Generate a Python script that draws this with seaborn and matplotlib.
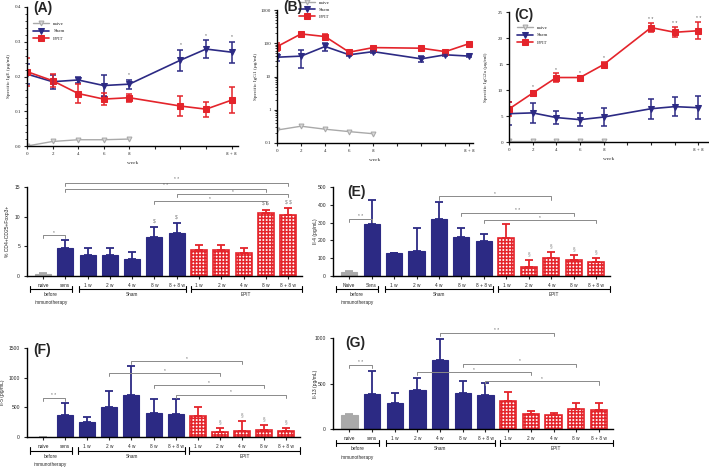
import numpy as np
import pandas as pd
import matplotlib
matplotlib.use("Agg")
import matplotlib.pyplot as plt
import seaborn as sns
from matplotlib.transforms import blended_transform_factory
from matplotlib.ticker import LogLocator, NullFormatter, AutoMinorLocator

sns.set_theme(style="ticks")
plt.rcParams['font.family'] = ['Liberation Sans', 'DejaVu Sans']
plt.rcParams['hatch.linewidth'] = 1.1

NAVY = '#2c2a84'
RED = '#e4242b'
GREY = '#a9a9a9'
BRK = '#8a8a8a'

# ---------------- time-course data (weeks) ----------------
weeks = [0, 2, 4, 6, 8, 12, 14, 16]
naive_weeks = [0, 2, 4, 6, 8]
week_ticks = [0, 2, 4, 6, 8, 10, 12, 14, 16]
week_labels = ['0', '2', '4', '6', '8', '', '', '', '8 + 8']

ige_naive = [0.0, 0.013, 0.018, 0.018, 0.02]
ige_sham = [0.207, 0.185, 0.19, 0.174, 0.178, 0.247, 0.279, 0.27]
ige_sham_err = [0.03, 0.02, 0.01, 0.03, 0.013, 0.03, 0.025, 0.03]
ige_epit = [0.214, 0.188, 0.151, 0.135, 0.139, 0.115, 0.106, 0.132]
ige_epit_err = [0.04, 0.018, 0.027, 0.018, 0.012, 0.028, 0.022, 0.038]
ige_stars = ['', '', '', '', '*', '*', '*', '*']

igg1_naive = [0.245, 0.32, 0.26, 0.22, 0.19]
igg1_sham = [38, 41, 80, 45, 56, 34, 45, 41]
igg1_sham_err = [8, 23, 20, 4, 4, 7, 3, 3]
igg1_epit = [79, 191, 159, 54, 74, 71, 56, 98]
igg1_epit_err = [20, 15, 25, 5, 5, 5, 4, 5]

igg2a_naive = [0.2, 0.2, 0.2, 0.2, 0.2]
igg2a_sham = [5.45, 5.6, 4.7, 4.3, 4.8, 6.4, 6.8, 6.6]
igg2a_sham_err = [2.2, 1.9, 1.3, 1.3, 1.8, 1.9, 1.8, 2.2]
igg2a_epit = [6.35, 9.4, 12.4, 12.4, 14.9, 22.0, 21.1, 21.4]
igg2a_epit_err = [1.3, 0.5, 0.8, 0.2, 0.5, 0.8, 1.0, 1.6]
igg2a_stars = ['', '*', '*', '*', '*', '* *', '* *', '* *']

# ---------------- bar data ----------------
bar_keys = ['naive', 'sens', 'Sham 1w', 'Sham 2w', 'Sham 4w', 'Sham 8w', 'Sham 8+8w',
            'EPIT 1w', 'EPIT 2w', 'EPIT 4w', 'EPIT 8w', 'EPIT 8+8w']
bar_labels = ['naive', 'sens', '1 w', '2 w', '4 w', '8 w', '8 + 8 w',
              '1 w', '2 w', '4 w', '8 w', '8 + 8 w']
bar_labels_e = ['Naive', 'Sens'] + bar_labels[2:]
bar_group = ['naive', 'sens', 'Sham', 'Sham', 'Sham', 'Sham', 'Sham',
             'EPIT', 'EPIT', 'EPIT', 'EPIT', 'EPIT']

treg = [0.35, 4.8, 3.5, 3.5, 2.9, 6.6, 7.2, 4.3, 4.3, 3.8, 10.7, 10.3]
treg_err = [0.1, 1.2, 1.3, 1.3, 1.1, 1.7, 1.8, 0.95, 0.95, 0.9, 0.5, 1.1]
il4 = [20, 292, 127, 139, 320, 217, 197, 212, 52, 99, 90, 80]
il4_err = [8, 137, 3, 131, 98, 53, 37, 78, 38, 36, 28, 21]
il5 = [5, 365, 247, 500, 708, 399, 382, 360, 79, 101, 112, 96]
il5_err = [3, 208, 96, 270, 483, 241, 253, 151, 73, 163, 96, 50]
il13 = [157, 388, 286, 425, 755, 396, 377, 304, 168, 150, 220, 212]
il13_err = [10, 246, 113, 139, 238, 128, 132, 99, 26, 22, 66, 74]

treg_brackets = [(0, 1, 6.85, '*'), (1, 11, 15.7, '* *'), (1, 10, 14.7, '* *'),
                 (6, 11, 13.8, '*'), (5, 10, 12.6, '*')]
il4_brackets = [(0, 1, 320, '* *'), (4, 9, 447, '*'), (5, 10, 354, '* *'), (6, 11, 313, '*')]
il5_brackets = [(0, 1, 657, '* *'), (4, 9, 1275, '*'), (3, 8, 1079, '*'),
                (5, 10, 871, '*'), (6, 11, 713, '*')]
il13_brackets = [(0, 1, 700, '* *'), (4, 9, 1055, '* *'), (5, 10, 718, '*'),
                 (3, 8, 626, '*'), (6, 11, 524, '*')]
treg_marks = {5: '\\$', 6: '\\$', 10: '\\$ \\$', 11: '\\$ \\$'}
il4_marks = {8: '§', 9: '§', 10: '§', 11: '§'}
il5_marks = {8: '§', 9: '§', 10: '§', 11: '§'}

W, H = 709, 468
fig = plt.figure(figsize=(W / 100, H / 100), dpi=100)


def rect(l, t, r, b):
    return [l / W, 1 - b / H, (r - l) / W, (b - t) / H]


def place_ylabel(ax, px):
    bb = ax.get_position()
    x_ax = (px / W - bb.x0) / bb.width
    ax.yaxis.set_label_coords(x_ax, 0.5)


SERIF = ['Liberation Serif', 'DejaVu Serif']


def line_panel(ax, naive, sham, sham_err, epit, epit_err, log=False,
               ylim=None, ylabel='', legend_anchor=(0, 1)):
    sns.lineplot(x=naive_weeks, y=naive, ax=ax, color=GREY, marker='v', markersize=3.5,
                 markerfacecolor='#d8d8d8', markeredgecolor=GREY, lw=1.0, label='naive')
    sns.lineplot(x=weeks, y=sham, ax=ax, color=NAVY, marker='v', markersize=4,
                 markeredgecolor=NAVY, lw=1.2, label='Sham')
    sns.lineplot(x=weeks, y=epit, ax=ax, color=RED, marker='s', markersize=4,
                 markeredgecolor=RED, lw=1.2, label='EPIT')
    ax.errorbar(weeks, sham, yerr=sham_err, fmt='none', ecolor=NAVY, elinewidth=1.1,
                capsize=2.2, capthick=1.1)
    ax.errorbar(weeks, epit, yerr=epit_err, fmt='none', ecolor=RED, elinewidth=1.1,
                capsize=2.2, capthick=1.1)
    if log:
        ax.set_yscale('log')
    ax.set_ylim(*ylim)
    ax.set_xlim(0, 16.5)
    ax.set_xticks(week_ticks)
    ax.set_xticklabels(week_labels, fontsize=3.6, family=SERIF)
    ax.tick_params(axis='both', length=2.2, width=0.8, pad=2, labelsize=3.6)
    ax.set_ylabel(ylabel, fontsize=3.8, family=SERIF)
    ax.set_xlabel('week', fontsize=3.8, family=SERIF, labelpad=4)
    for s in ['left', 'bottom']:
        ax.spines[s].set_linewidth(1.0)
        ax.spines[s].set_color('black')
    sns.despine(ax=ax)
    ax.legend(loc='upper left', bbox_to_anchor=legend_anchor, frameon=False,
              prop={'family': SERIF, 'size': 3.6}, handlelength=3.2,
              labelspacing=0.55, borderaxespad=0)
    return ax


# ---------- (A) ----------
axA = fig.add_axes(rect(27, 7, 238, 146))
line_panel(axA, ige_naive, ige_sham, ige_sham_err, ige_epit, ige_epit_err,
           ylim=(0, 0.4), ylabel='Specific IgE (µg/ml)', legend_anchor=(0.02, 0.91))
axA.set_yticks([0, 0.1, 0.2, 0.3, 0.4])
axA.set_yticklabels(['0.0', '0.1', '0.2', '0.3', '0.4'], family=SERIF, fontsize=3.6)
axA.yaxis.set_minor_locator(AutoMinorLocator(5))
axA.tick_params(axis='y', which='minor', length=1.2, width=0.6)
place_ylabel(axA, 11)
for k, st in enumerate(ige_stars):
    if st:
        axA.text(weeks[k], ige_sham[k] + ige_sham_err[k] + 0.008, st, ha='center',
                 va='bottom', fontsize=3.6, color='#555555')

# ---------- (B) ----------
axB = fig.add_axes(rect(277, 10, 473, 143))
line_panel(axB, igg1_naive, igg1_sham, igg1_sham_err, igg1_epit, igg1_epit_err,
           log=True, ylim=(0.1, 1000), ylabel='Specific IgG1 (µg/ml)',
           legend_anchor=(0.1, 1.09))
axB.set_xlim(0, 16.3)
axB.set_yticks([0.1, 1, 10, 100, 1000])
axB.set_yticklabels(['0.1', '1', '10', '100', '1000'], family=SERIF, fontsize=3.6)
axB.yaxis.set_minor_locator(LogLocator(base=10, subs=np.arange(2, 10)))
axB.yaxis.set_minor_formatter(NullFormatter())
axB.tick_params(axis='y', which='minor', length=1.2, width=0.6)
place_ylabel(axB, 258)

# ---------- (C) ----------
axC = fig.add_axes(rect(509, 12, 709, 142))
line_panel(axC, igg2a_naive, igg2a_sham, igg2a_sham_err, igg2a_epit, igg2a_epit_err,
           ylim=(0, 25), ylabel='Specific IgG2a (µg/ml)', legend_anchor=(0.03, 0.91))
axC.set_xlim(0, 16.9)
axC.set_yticks([0, 5, 10, 15, 20, 25])
axC.set_yticklabels(['0', '5', '10', '15', '20', '25'], family=SERIF, fontsize=3.6)
place_ylabel(axC, 488)
for k, st in enumerate(igg2a_stars):
    if st:
        axC.text(weeks[k], igg2a_epit[k] + igg2a_epit_err[k] + 0.3, st, ha='center',
                 va='bottom', fontsize=3.6, color='#555555')


# ---------------- bar panels ----------------
def bar_panel(ax, vals, errs, ylim, yticks, ylabel, brackets, marks, labels,
              group_y=-0.15, ylab_px=10):
    df = pd.DataFrame({'key': bar_keys, 'val': vals, 'grp': bar_group})
    pal = {}
    for k, g in zip(bar_keys, bar_group):
        pal[k] = GREY if g == 'naive' else (NAVY if g in ('sens', 'Sham') else 'white')
    sns.barplot(data=df, x='key', y='val', hue='key', order=bar_keys, hue_order=bar_keys,
                palette=pal, dodge=False, width=0.72, legend=False, ax=ax,
                saturation=1, errorbar=None)
    for p in ax.patches:
        xc = int(round(p.get_x() + p.get_width() / 2))
        g = bar_group[xc]
        if g == 'EPIT':
            p.set_facecolor('white')
            p.set_edgecolor(RED)
            p.set_hatch('+++++')
            p.set_linewidth(1.2)
        elif g == 'naive':
            p.set_edgecolor(GREY)
            p.set_linewidth(0.8)
        else:
            p.set_edgecolor(NAVY)
            p.set_linewidth(0.8)
    x = np.arange(len(bar_keys))
    ecols = [GREY if g == 'naive' else (RED if g == 'EPIT' else NAVY) for g in bar_group]
    for xi, v, e, c in zip(x, vals, errs, ecols):
        ax.errorbar([xi], [v], yerr=[[0], [e]], fmt='none', ecolor=c, elinewidth=1.3,
                    capsize=3.2, capthick=1.3, zorder=1)
    ax.set_xlim(-0.72, 11.62)
    ax.set_ylim(*ylim)
    ax.set_yticks(yticks)
    ax.set_yticklabels([str(t) for t in yticks], fontsize=3.6)
    ax.set_xticks(x)
    ax.set_xticklabels(labels, fontsize=3.4)
    ax.tick_params(axis='both', length=2.5, width=0.8, pad=2.5)
    ax.set_xlabel('')
    ax.set_ylabel(ylabel, fontsize=3.6)
    place_ylabel(ax, ylab_px)
    for s in ['left', 'bottom']:
        ax.spines[s].set_linewidth(1.0)
        ax.spines[s].set_color('black')
    sns.despine(ax=ax)
    rng = ylim[1] - ylim[0]
    h = 0.035 * rng
    for i, j, y, t in brackets:
        ax.plot([i, i, j, j], [y - h, y, y, y - h], color=BRK, lw=0.7, clip_on=False)
        ax.text((i + j) / 2, y + 0.005 * rng, t, ha='center', va='bottom', fontsize=3.4,
                color='#666666', clip_on=False)
    for k, t in marks.items():
        ax.text(k, vals[k] + errs[k] + 0.04 * rng, t, ha='center', va='bottom',
                fontsize=3.4, color='#777777')
    tr = blended_transform_factory(ax.transData, ax.transAxes)
    spans = [(-0.6, 1.3, 'before'), (1.6, 6.42, 'Sham'), (6.62, 11.6, 'EPIT')]
    for a, b, name in spans:
        ax.plot([a, b], [group_y, group_y], color='black', lw=0.8, transform=tr,
                clip_on=False)
        for xx in (a, b):
            ax.plot([xx, xx], [group_y - 0.035, group_y + 0.035], color='black', lw=0.8,
                    transform=tr, clip_on=False)
        ax.text((a + b) / 2, group_y - 0.065, name, ha='center', va='center', fontsize=3.4,
                transform=tr)
    ax.text(0.35, group_y - 0.155, 'immunotherapy', ha='center', va='center', fontsize=3.4,
            transform=tr)


axD = fig.add_axes(rect(27, 187, 302, 276))
bar_panel(axD, treg, treg_err, (0, 15), [0, 5, 10, 15], '% CD4+CD25+Foxp3+',
          treg_brackets, treg_marks, bar_labels, group_y=-0.146, ylab_px=10)

axE = fig.add_axes(rect(333, 187, 610, 276))
bar_panel(axE, il4, il4_err, (0, 500), [0, 100, 200, 300, 400, 500], 'Il-4 (pg/mL)',
          il4_brackets, il4_marks, bar_labels_e, group_y=-0.146, ylab_px=318)

axF = fig.add_axes(rect(27, 348, 300, 437))
bar_panel(axF, il5, il5_err, (0, 1500), [0, 500, 1000, 1500], 'Il-5 (pg/mL)',
          il5_brackets, il5_marks, bar_labels, group_y=-0.152, ylab_px=5)

axG = fig.add_axes(rect(333, 338, 613, 429))
bar_panel(axG, il13, il13_err, (0, 1000), [0, 500, 1000], 'Il-13 (pg/mL)',
          il13_brackets, {}, bar_labels, group_y=-0.154, ylab_px=318)

# panel titles
for txt, px, py in [('(A)', 33, 8), ('(B)', 283, 7), ('(C)', 514, 15),
                    ('(E)', 347, 192), ('(F)', 33, 350), ('(G)', 345, 343)]:
    fig.text(px / W, 1 - py / H, txt, fontsize=10, fontweight='bold', ha='left',
             va='center', family=['Liberation Sans', 'DejaVu Sans'])

fig.savefig('out.png', dpi=100)
